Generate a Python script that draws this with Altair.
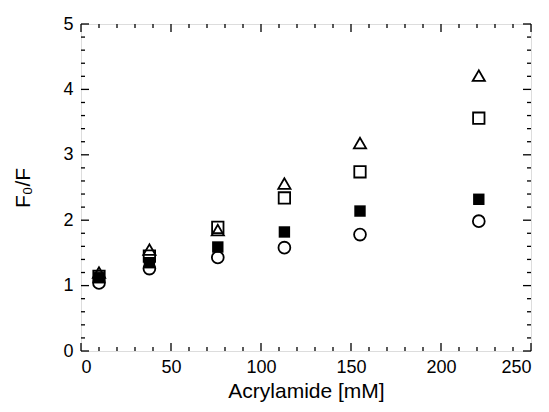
import altair as alt
import pandas as pd

# data
conc = [10, 38, 76, 113, 155, 221]
tri_open = [1.20, 1.55, 1.85, 2.56, 3.18, 4.21]
sq_open = [1.14, 1.45, 1.89, 2.34, 2.74, 3.56]
sq_filled = [1.12, 1.35, 1.59, 1.82, 2.14, 2.32]
circ_open = [1.04, 1.26, 1.43, 1.58, 1.78, 1.985]

x_major = [0, 50, 100, 150, 200, 250]
x_minor = [v for v in range(0, 251, 10) if v % 50 != 0]
y_major = [0, 1, 2, 3, 4, 5]
y_minor = [round(i * 0.2, 1) for i in range(0, 26) if i % 5 != 0]

W, H = 450, 327

xs = alt.Scale(domain=[0, 250], nice=False, zero=False)
ys = alt.Scale(domain=[0, 5], nice=False, zero=False)

xaxis = alt.Axis(values=x_major, ticks=False, domain=False, grid=False,
                 format="d", labelPadding=7, title="Acrylamide [mM]",
                 titlePadding=4)
yaxis = alt.Axis(values=y_major, ticks=False, domain=False, grid=False,
                 format="d", labelPadding=8, title="F₀/F",
                 titlePadding=29)

def X(f):
    return alt.X(f, scale=xs, axis=xaxis)

def Y(f):
    return alt.Y(f, scale=ys, axis=yaxis)

def series(vals, shape, filled, size):
    df = pd.DataFrame({"x": conc, "y": vals})
    m = alt.Chart(df).mark_point(
        shape=shape, filled=filled, size=size, color="black",
        strokeWidth=1.8, opacity=1
    )
    return m.encode(x=X("x:Q"), y=Y("y:Q"))

def xticks(vals, L):
    df = pd.DataFrame({"x": vals})
    b = alt.Chart(df).mark_rule(color="black", strokeWidth=1.3)
    bot = b.encode(x=X("x:Q"), y=alt.value(H), y2=alt.value(H - L))
    top = b.encode(x=X("x:Q"), y=alt.value(0), y2=alt.value(L))
    return [bot, top]

def yticks(vals, L):
    df = pd.DataFrame({"y": vals})
    b = alt.Chart(df).mark_rule(color="black", strokeWidth=1.3)
    lft = b.encode(y=Y("y:Q"), x=alt.value(0), x2=alt.value(L))
    rgt = b.encode(y=Y("y:Q"), x=alt.value(W), x2=alt.value(W - L))
    return [lft, rgt]

layers = [
    series(circ_open, "circle", False, 140),
    series(sq_filled, "square", True, 130),
    series(sq_open, "square", False, 130),
    series(tri_open, "triangle-up", False, 150),
]
layers += xticks(x_major, 8) + xticks(x_minor, 4)
layers += yticks(y_major, 8) + yticks(y_minor, 4)

chart = alt.layer(*layers).properties(
    width=W, height=H,
    autosize=alt.AutoSizeParams(type="none"),
    padding={"left": 73, "top": 16, "right": 10, "bottom": 53},
).configure_view(stroke="black", strokeWidth=1.6).configure(
    background="white"
).configure_axis(
    labelFontSize=18, labelColor="black", labelFont="Liberation Sans",
    titleFontSize=21, titleFontWeight="normal", titleColor="black",
    titleFont="Liberation Sans"
)

chart.save("out.html", embed_options={"renderer": "svg", "actions": False})
